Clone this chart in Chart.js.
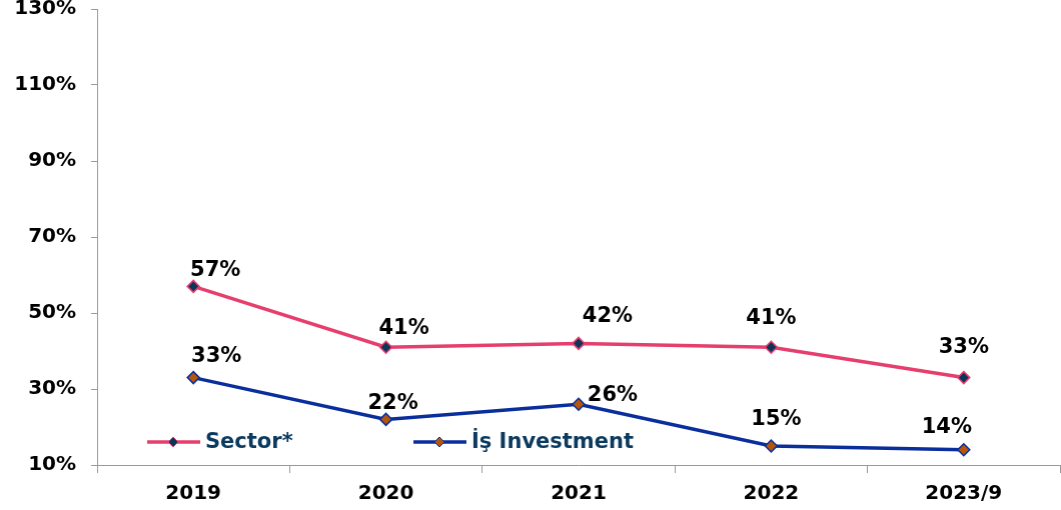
<!DOCTYPE html>
<html><head><meta charset="utf-8">
<script src="https://cdn.jsdelivr.net/npm/chart.js@4/dist/chart.umd.min.js"></script>
<style>html,body{margin:0;padding:0;background:#fff;overflow:hidden;width:1061px;height:510px;}#wrap{width:1066.5px;height:510px;}</style>
</head><body><div id="wrap"><canvas id="c"></canvas></div>
<script>
const categories = ["2019", "2020", "2021", "2022", "2023/9"];
const sectorValues = [57, 41, 42, 41, 33];
const isValues = [33, 22, 26, 15, 14];
const seriesNames = ["Sector*", "İş Investment"];
const yTicks = [10, 30, 50, 70, 90, 110, 130];

const FONT = "'DejaVu Sans', Verdana, sans-serif";
// label offsets (dx, dy) in px relative to point
const sectorLabelOffsets = [[22,-16],[18,-19],[29,-27],[0,-29],[0,-30]];
const isLabelOffsets = [[23,-21],[7,-16],[34,-9],[5,-26],[-17,-22]];

const labelPlugin = {
  id: 'labels',
  afterDatasetsDraw(chart) {
    const ctx = chart.ctx;
    ctx.save();
    ctx.font = "bold 21px " + FONT;
    ctx.fillStyle = "#000";
    ctx.textAlign = "center";
    ctx.textBaseline = "middle";
    chart.data.datasets.forEach((ds, i) => {
      const meta = chart.getDatasetMeta(i);
      meta.data.forEach((pt, j) => {
        const off = ds.labelOffsets[j];
        ctx.fillText(ds.data[j] + "%", pt.x + off[0], pt.y + off[1]);
      });
    });
    // legend
    const items = [
      {x: 147, ds: chart.data.datasets[0]},
      {x: 413, ds: chart.data.datasets[1]}
    ];
    const y = 442;
    items.forEach(it => {
      ctx.strokeStyle = it.ds.borderColor;
      ctx.lineWidth = 3.5;
      ctx.beginPath(); ctx.moveTo(it.x, y); ctx.lineTo(it.x + 53, y); ctx.stroke();
      const cx = it.x + 26, r = 5;
      ctx.beginPath();
      ctx.moveTo(cx, y - r); ctx.lineTo(cx + r, y); ctx.lineTo(cx, y + r); ctx.lineTo(cx - r, y); ctx.closePath();
      ctx.fillStyle = it.ds.pointBackgroundColor; ctx.fill();
      ctx.lineWidth = 1; ctx.strokeStyle = it.ds.pointBorderColor; ctx.stroke();
      ctx.fillStyle = "#0b3a5e";
      ctx.textAlign = "left";
      ctx.font = "bold 21px " + FONT;
      ctx.fillText(it.ds.label, it.x + 58, y + 1);
    });
    ctx.restore();
  }
};

new Chart(document.getElementById('c'), {
  type: 'line',
  data: {
    labels: categories,
    datasets: [
      {label: seriesNames[0], data: sectorValues, borderColor: '#e63e6d', borderWidth: 3.5,
       pointStyle: 'rectRot', pointRadius: 6, pointBackgroundColor: '#0b3559', pointBorderColor: '#e63e6d', pointBorderWidth: 1.5,
       labelOffsets: sectorLabelOffsets, tension: 0},
      {label: seriesNames[1], data: isValues, borderColor: '#0a2f9c', borderWidth: 3.5,
       pointStyle: 'rectRot', pointRadius: 6, pointBackgroundColor: '#b5560c', pointBorderColor: '#0a2f9c', pointBorderWidth: 1.5,
       labelOffsets: isLabelOffsets, tension: 0}
    ]
  },
  options: {
    responsive: true, maintainAspectRatio: false, animation: false,
    layout: {padding: {left: 0, right: 2, top: 9, bottom: 0}},
    plugins: {legend: {display: false}, tooltip: {enabled: false}},
    scales: {
      x: {
        offset: true,
        grid: {offset: true, drawOnChartArea: false, tickLength: 8, color: '#9a9a9a'},
        border: {color: '#9a9a9a', width: 1},
        ticks: {font: {family: FONT, size: 20, weight: 'bold'}, color: '#000', padding: 9, maxRotation: 0},
        afterFit(s) { s.height = 45; s.paddingLeft = 0; s.paddingRight = 0; }
      },
      y: {
        min: 10, max: 130,
        afterBuildTicks(s) { s.ticks = yTicks.map(v => ({value: v})); },
        grid: {drawOnChartArea: false, tickLength: 6, color: '#9a9a9a'},
        border: {color: '#9a9a9a', width: 1},
        ticks: {font: {family: FONT, size: 20, weight: 'bold'}, color: '#000', padding: 15,
                callback: v => v + '%'},
        afterFit(s) { s.width = 97; s.paddingTop = 0; s.paddingBottom = 0; }
      }
    }
  },
  plugins: [labelPlugin]
});
</script></body></html>
